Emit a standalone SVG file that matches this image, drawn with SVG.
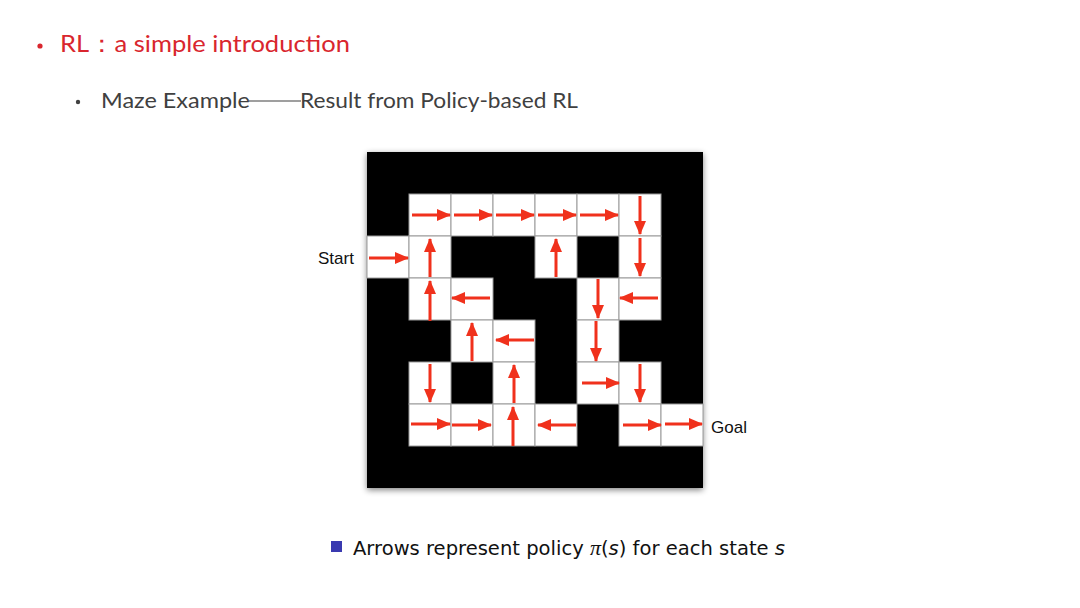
<svg xmlns="http://www.w3.org/2000/svg" width="1080" height="608" viewBox="0 0 1080 608">
<defs>
<marker id="ah" viewBox="0 0 14 12" refX="13" refY="6" markerWidth="14" markerHeight="12" markerUnits="userSpaceOnUse" orient="auto">
<path d="M0,0 L14,6 L0,12 Z" fill="#f0311c"/>
</marker>
<filter id="sh" x="-10%" y="-10%" width="120%" height="120%">
<feGaussianBlur in="SourceAlpha" stdDeviation="3"/>
<feOffset dx="0" dy="2"/>
<feComponentTransfer><feFuncA type="linear" slope="0.5"/></feComponentTransfer>
<feMerge><feMergeNode/><feMergeNode in="SourceGraphic"/></feMerge>
</filter>
</defs>
<style>
.cell{fill:#ffffff;stroke:#9a9a9a;stroke-width:1}
.arr{stroke:#f0311c;stroke-width:3;fill:none;marker-end:url(#ah)}
.lbl{font-family:"Liberation Sans",Arial,sans-serif;font-size:17px;fill:#111}
</style>
<rect width="1080" height="608" fill="#ffffff"/>
<g id="title">
<circle cx="40" cy="46" r="2.6" fill="#d9262e"/>
<text x="60" y="52" font-family="Lato,'Open Sans',sans-serif" font-size="24" fill="#d9262e" textLength="290" lengthAdjust="spacingAndGlyphs">RL：a simple introduction</text>
</g>
<g id="subtitle">
<circle cx="78" cy="102" r="2.2" fill="#404040"/>
<text x="101" y="108" font-family="Lato,'Open Sans',sans-serif" font-size="21" fill="#404040" textLength="149" lengthAdjust="spacingAndGlyphs">Maze Example</text>
<line x1="249" y1="101" x2="301" y2="101" stroke="#404040" stroke-width="1.2"/>
<text x="300" y="108" font-family="Lato,'Open Sans',sans-serif" font-size="21" fill="#404040" textLength="278" lengthAdjust="spacingAndGlyphs">Result from Policy-based RL</text>
</g>
<g id="maze">
<rect x="367" y="152" width="336" height="336" fill="#000000" filter="url(#sh)"/>
<rect class="cell" x="409" y="194" width="42" height="42"/>
<rect class="cell" x="451" y="194" width="42" height="42"/>
<rect class="cell" x="493" y="194" width="42" height="42"/>
<rect class="cell" x="535" y="194" width="42" height="42"/>
<rect class="cell" x="577" y="194" width="42" height="42"/>
<rect class="cell" x="619" y="194" width="42" height="42"/>
<rect class="cell" x="367" y="236" width="42" height="42"/>
<rect class="cell" x="409" y="236" width="42" height="42"/>
<rect class="cell" x="535" y="236" width="42" height="42"/>
<rect class="cell" x="619" y="236" width="42" height="42"/>
<rect class="cell" x="409" y="278" width="42" height="42"/>
<rect class="cell" x="451" y="278" width="42" height="42"/>
<rect class="cell" x="577" y="278" width="42" height="42"/>
<rect class="cell" x="619" y="278" width="42" height="42"/>
<rect class="cell" x="451" y="320" width="42" height="42"/>
<rect class="cell" x="493" y="320" width="42" height="42"/>
<rect class="cell" x="577" y="320" width="42" height="42"/>
<rect class="cell" x="409" y="362" width="42" height="42"/>
<rect class="cell" x="493" y="362" width="42" height="42"/>
<rect class="cell" x="577" y="362" width="42" height="42"/>
<rect class="cell" x="619" y="362" width="42" height="42"/>
<rect class="cell" x="409" y="404" width="42" height="42"/>
<rect class="cell" x="451" y="404" width="42" height="42"/>
<rect class="cell" x="493" y="404" width="42" height="42"/>
<rect class="cell" x="535" y="404" width="42" height="42"/>
<rect class="cell" x="619" y="404" width="42" height="42"/>
<rect class="cell" x="661" y="404" width="42" height="42"/>
</g>
<g id="arrows">
<line class="arr" x1="412" y1="215" x2="450" y2="215"/>
<line class="arr" x1="454" y1="215" x2="492" y2="215"/>
<line class="arr" x1="496" y1="215" x2="534" y2="215"/>
<line class="arr" x1="538" y1="215" x2="576" y2="215"/>
<line class="arr" x1="580" y1="215" x2="618" y2="215"/>
<line class="arr" x1="640" y1="196" x2="640" y2="234"/>
<line class="arr" x1="369" y1="258" x2="408" y2="258"/>
<line class="arr" x1="430" y1="277" x2="430" y2="239"/>
<line class="arr" x1="556" y1="277" x2="556" y2="239"/>
<line class="arr" x1="640" y1="238" x2="640" y2="276"/>
<line class="arr" x1="430" y1="321" x2="430" y2="281"/>
<line class="arr" x1="490" y1="298" x2="452" y2="298"/>
<line class="arr" x1="598" y1="279" x2="598" y2="318"/>
<line class="arr" x1="658" y1="298" x2="620" y2="298"/>
<line class="arr" x1="472" y1="361" x2="472" y2="323"/>
<line class="arr" x1="534" y1="340" x2="496" y2="340"/>
<line class="arr" x1="596" y1="321" x2="596" y2="361"/>
<line class="arr" x1="430" y1="364" x2="430" y2="402"/>
<line class="arr" x1="514" y1="403" x2="514" y2="365"/>
<line class="arr" x1="582" y1="383" x2="619" y2="383"/>
<line class="arr" x1="640" y1="364" x2="640" y2="402"/>
<line class="arr" x1="411" y1="424" x2="450" y2="424"/>
<line class="arr" x1="452" y1="425" x2="491" y2="425"/>
<line class="arr" x1="513" y1="446" x2="513" y2="407"/>
<line class="arr" x1="576" y1="425" x2="538" y2="425"/>
<line class="arr" x1="623" y1="425" x2="661" y2="425"/>
<line class="arr" x1="665" y1="424" x2="702" y2="424"/>
</g>
<g id="start"><text class="lbl" x="318" y="264">Start</text></g>
<g id="goal"><text class="lbl" x="711" y="433">Goal</text></g>
<g id="caption">
<rect x="331" y="541" width="11" height="11" fill="#3a3ab0"/>
<text x="353" y="555" font-family="'DejaVu Sans',sans-serif" font-size="19.5" fill="#111" textLength="432" lengthAdjust="spacingAndGlyphs">Arrows represent policy <tspan font-family="'Liberation Serif',serif" font-style="italic" font-size="22">π</tspan>(<tspan font-style="italic">s</tspan>) for each state <tspan font-style="italic">s</tspan></text>
</g>
</svg>
